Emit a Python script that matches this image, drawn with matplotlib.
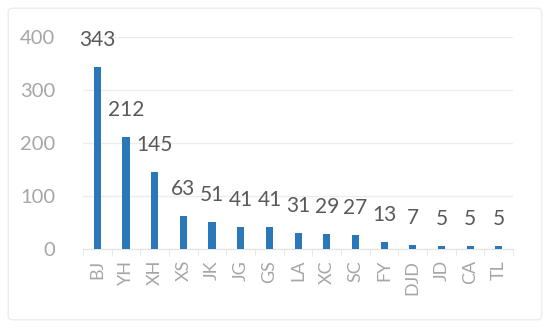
import matplotlib.pyplot as plt
from matplotlib.patches import FancyBboxPatch
import numpy as np

plt.rcParams['font.family'] = ['Lato', 'DejaVu Sans']

cats = ['BJ', 'YH', 'XH', 'XS', 'JK', 'JG', 'GS', 'LA', 'XC', 'SC', 'FY', 'DJD', 'JD', 'CA', 'TL']
vals = [343, 212, 145, 63, 51, 41, 41, 31, 29, 27, 13, 7, 5, 5, 5]

fig = plt.figure(figsize=(5.5, 3.28), dpi=100)
ax = fig.add_axes([0.151, 0.241, 0.782, 0.646])

# faint outer frame
fig.patches.append(FancyBboxPatch((0.015, 0.025), 0.97, 0.95, boxstyle='round,pad=0,rounding_size=0.01',
                                  transform=fig.transFigure, fill=False, edgecolor='#ececec', lw=1))

x = np.arange(len(cats))
ax.bar(x, vals, width=0.25, color='#2a78b9', zorder=3)
for xi, v in zip(x, vals):
    ax.annotate(str(v), (xi, v), xytext=(0, 27), textcoords='offset pixels',
                ha='center', va='center', fontsize=15, color='#595959')

ax.set_xlim(-0.5, len(cats) - 0.5)
ax.set_ylim(0, 400)
ax.set_yticks([0, 100, 200, 300, 400])
ax.grid(axis='y', color='#ececec', lw=1, zorder=0)
ax.set_xticks(x)
ax.set_xticklabels(cats, rotation=90, fontsize=13, color='#a6a6a6')
ax.set_xticks(np.arange(-0.5, len(cats)), minor=True)
ax.tick_params(axis='x', which='major', length=0, pad=8)
ax.tick_params(axis='x', which='minor', length=5, color='#e4e4e4')
ax.tick_params(axis='y', length=0, pad=20, labelsize=14.5, labelcolor='#a6a6a6')
for s in ['top', 'right', 'left']:
    ax.spines[s].set_visible(False)
ax.spines['bottom'].set_color('#e4e4e4')

fig.savefig('out.png', dpi=100)
